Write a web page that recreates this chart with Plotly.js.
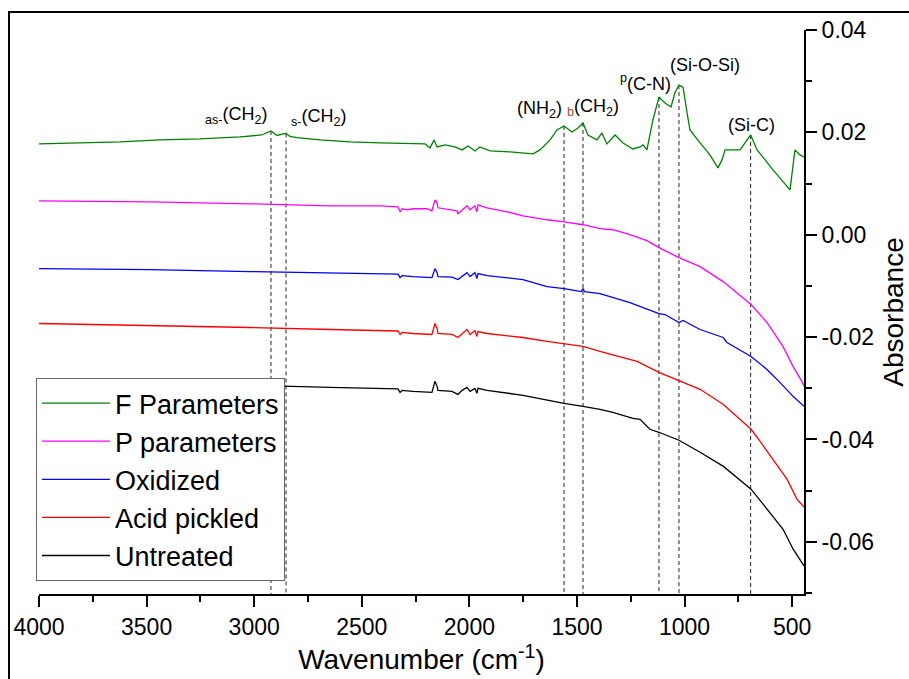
<!DOCTYPE html>
<html>
<head>
<meta charset="utf-8">
<script src="https://cdn.plot.ly/plotly-3.0.1.min.js"></script>
<style>html,body{margin:0;padding:0;background:#fff;}#chart{width:909px;height:679px;}</style>
</head>
<body>
<div id="chart"></div>
<script>
// ---- data (wavenumber in cm-1, absorbance) ----
var seriesNames = ['F Parameters', 'P parameters', 'Oxidized', 'Acid pickled', 'Untreated'];
var seriesColors = ['#008000', '#ff00ff', '#0000ff', '#ff0000', '#000000'];

var fWave = [4000,3809,3624,3438,3252,3066,2964,2922,2894,2866,2852,2834,2801,2694,2555,2415,2276,2206,2183,2164,2150,2113,2067,2034,2006,1974,1951,1904,1811,1741,1704,1672,1625,1593,1560,1523,1495,1472,1449,1407,1384,1361,1323,1286,1240,1207,1193,1175,1147,1119,1091,1063,1045,1026,1007,989,975,928,882,845,826,812,742,693,663,589,510,487,464,445];
var fAbs = [0.01774,0.01793,0.01813,0.01852,0.01871,0.01910,0.01949,0.02027,0.01940,0.01969,0.01979,0.01920,0.01897,0.01852,0.01813,0.01793,0.01774,0.01774,0.01696,0.01852,0.01715,0.01754,0.01715,0.01657,0.01735,0.01637,0.01715,0.01637,0.01618,0.01598,0.01579,0.01657,0.01852,0.02047,0.02125,0.02008,0.02086,0.02183,0.01949,0.01852,0.01988,0.01774,0.01949,0.01793,0.01676,0.01715,0.01754,0.01657,0.02242,0.02690,0.02573,0.02495,0.02768,0.02924,0.02885,0.02398,0.02047,0.01793,0.01559,0.01306,0.01462,0.01657,0.01657,0.01949,0.01657,0.01267,0.00877,0.01657,0.01559,0.01520];

var pWave = [4000,3483,3019,2647,2415,2355,2332,2322,2313,2290,2262,2197,2174,2160,2150,2146,2123,2081,2058,2053,2034,2011,1997,1974,1965,1960,1918,1825,1751,1639,1560,1472,1393,1333,1254,1175,1119,1026,928,821,691,617,543,496,455,445];
var pAbs = [0.00663,0.00643,0.00604,0.00565,0.00565,0.00556,0.00546,0.00448,0.00507,0.00487,0.00507,0.00507,0.00468,0.00682,0.00624,0.00526,0.00507,0.00487,0.00468,0.00409,0.00487,0.00565,0.00487,0.00565,0.00448,0.00585,0.00526,0.00448,0.00370,0.00292,0.00253,0.00195,0.00117,0.00097,0.00000,-0.00117,-0.00253,-0.00448,-0.00624,-0.00916,-0.01365,-0.01715,-0.02183,-0.02573,-0.02865,-0.02963];

var oWave = [4000,3483,3019,2647,2415,2332,2322,2313,2262,2174,2160,2150,2146,2081,2053,2034,2011,1997,1974,1965,1960,1918,1751,1639,1560,1480,1472,1465,1393,1254,1119,1091,1026,1007,928,821,803,691,617,557,496,445];
var oAbs = [-0.00663,-0.00682,-0.00721,-0.00741,-0.00760,-0.00770,-0.00838,-0.00799,-0.00819,-0.00838,-0.00663,-0.00741,-0.00819,-0.00828,-0.00877,-0.00819,-0.00741,-0.00819,-0.00741,-0.00858,-0.00760,-0.00799,-0.00877,-0.01014,-0.01053,-0.01111,-0.01053,-0.01111,-0.01150,-0.01326,-0.01540,-0.01559,-0.01715,-0.01676,-0.01852,-0.02008,-0.02105,-0.02378,-0.02632,-0.02885,-0.03158,-0.03353];

var aWave = [4000,3483,3019,2647,2415,2332,2322,2313,2262,2174,2160,2150,2146,2081,2053,2034,2011,1997,1974,1965,1960,1918,1751,1639,1560,1472,1393,1221,1119,1026,928,821,691,663,589,524,478,445];
var aAbs = [-0.01735,-0.01774,-0.01813,-0.01852,-0.01871,-0.01881,-0.01949,-0.01910,-0.01930,-0.01949,-0.01735,-0.01832,-0.01930,-0.01949,-0.02008,-0.01930,-0.01852,-0.01949,-0.01871,-0.01988,-0.01891,-0.01930,-0.02008,-0.02086,-0.02125,-0.02183,-0.02281,-0.02476,-0.02690,-0.02846,-0.03021,-0.03314,-0.03801,-0.03957,-0.04386,-0.04776,-0.05166,-0.05322];

var uWave = [4000,3483,3019,2647,2415,2332,2322,2313,2262,2174,2160,2150,2146,2081,2053,2034,2011,1997,1974,1965,1960,1918,1751,1639,1560,1472,1393,1333,1240,1207,1161,1119,1068,1026,928,821,691,617,543,496,464,445];
var uAbs = [-0.02865,-0.02904,-0.02943,-0.02982,-0.03002,-0.03012,-0.03080,-0.03041,-0.03060,-0.03080,-0.02865,-0.02963,-0.03041,-0.03060,-0.03119,-0.03041,-0.02982,-0.03060,-0.03002,-0.03099,-0.03002,-0.03041,-0.03138,-0.03236,-0.03294,-0.03353,-0.03411,-0.03470,-0.03587,-0.03606,-0.03801,-0.03860,-0.03938,-0.04016,-0.04250,-0.04522,-0.04971,-0.05361,-0.05750,-0.06140,-0.06335,-0.06472];

// peak assignments (marked on the F Parameters spectrum)
var peakWave = [2922, 2852, 1560, 1472, 1119, 1026, 693];
var peakLabels = ['<sub>as-</sub>(CH<sub>2</sub>)', '<sub>s-</sub>(CH<sub>2</sub>)', '(NH<sub>2</sub>)',
                  '<sub><span style="color:#a0522d">b</span></sub>(CH<sub>2</sub>)', '<sup>p</sup>(C-N)', '(Si-O-Si)', '(Si-C)'];

// axis ticks
var xTickVals = [4000, 3500, 3000, 2500, 2000, 1500, 1000, 500];
var yTickVals = [0.04, 0.02, 0.00, -0.02, -0.04, -0.06];
var yTickText = ['0.04', '0.02', '0.00', '-0.02', '-0.04', '-0.06'];
var xRange = [4000, 445];
var yRange = [-0.0702, 0.04];

// ---- traces ----
var waves = [fWave, pWave, oWave, aWave, uWave];
var absb = [fAbs, pAbs, oAbs, aAbs, uAbs];
var traces = seriesNames.map(function (n, i) {
  return {x: waves[i], y: absb[i], name: n, type: 'scatter', mode: 'lines',
          line: {color: seriesColors[i], width: 1.3}};
});

// dashed marker lines from the F curve down to the axis
var shapes = peakWave.map(function (w) {
  var top = fAbs[fWave.indexOf(w)];
  return {type: 'line', xref: 'x', yref: 'y', x0: w, x1: w, y0: top, y1: yRange[0],
          line: {color: '#222', width: 1, dash: '4px,3px'}, layer: 'below'};
});
// outer frame
shapes.push({type: 'rect', xref: 'paper', yref: 'paper', x0: -0.0392, x1: 1.3, y0: -0.3, y1: 1.0319,
             line: {color: '#000', width: 2}, fillcolor: 'rgba(0,0,0,0)', layer: 'below'});

var labelPos = [
  {x: 3080, y: 0.0232}, {x: 2700, y: 0.0230}, {x: 1674, y: 0.0244}, {x: 1426, y: 0.0248},
  {x: 1182, y: 0.0298}, {x: 907, y: 0.0331}, {x: 689, y: 0.0214}
];
var annotations = peakLabels.map(function (t, i) {
  return {x: labelPos[i].x, y: labelPos[i].y, xref: 'x', yref: 'y', text: t, showarrow: false,
          xanchor: 'center', yanchor: 'middle',
          font: {family: 'Arial, "Liberation Sans", sans-serif', size: 18, color: '#000'}};
});

var FONT = 'Arial, "Liberation Sans", sans-serif';
var layout = {
  width: 909, height: 679,
  margin: {l: 39, r: 105, t: 30, b: 85, pad: 0},
  paper_bgcolor: '#fff', plot_bgcolor: '#fff',
  font: {family: FONT, color: '#000'},
  showlegend: true,
  legend: {x: -0.004, y: 0.023, xanchor: 'left', yanchor: 'bottom',
           bgcolor: '#fff', bordercolor: '#666', borderwidth: 1,
           font: {family: FONT, size: 27, color: '#000'}, itemwidth: 68, tracegroupgap: 0},
  xaxis: {range: xRange, autorange: false, showgrid: false, zeroline: false,
          showline: true, linecolor: '#000', linewidth: 2, mirror: false,
          ticks: 'outside', ticklen: 11, tickwidth: 2, tickcolor: '#000',
          tickmode: 'array', tickvals: xTickVals,
          minor: {ticks: 'outside', ticklen: 6, tickwidth: 2, tickcolor: '#000', dtick: 250, showgrid: false},
          tickfont: {family: FONT, size: 23, color: '#000'},
          title: {text: 'Wavenumber (cm<sup>-1</sup>)', font: {family: FONT, size: 28, color: '#000'}, standoff: 8}},
  yaxis: {range: yRange, autorange: false, side: 'right', showgrid: false, zeroline: false,
          showline: true, linecolor: '#000', linewidth: 2, mirror: false,
          ticks: 'outside', ticklen: 11, tickwidth: 2, tickcolor: '#000',
          tickmode: 'array', tickvals: yTickVals, ticktext: yTickText,
          minor: {ticks: 'outside', ticklen: 6, tickwidth: 2, tickcolor: '#000', dtick: 0.01, showgrid: false},
          tickfont: {family: FONT, size: 23, color: '#000'},
          title: {text: 'Absorbance', font: {family: FONT, size: 28, color: '#000'}, standoff: 15}},
  shapes: shapes,
  annotations: annotations
};

Plotly.newPlot('chart', traces, layout, {displayModeBar: false, staticPlot: true});
</script>
</body>
</html>
